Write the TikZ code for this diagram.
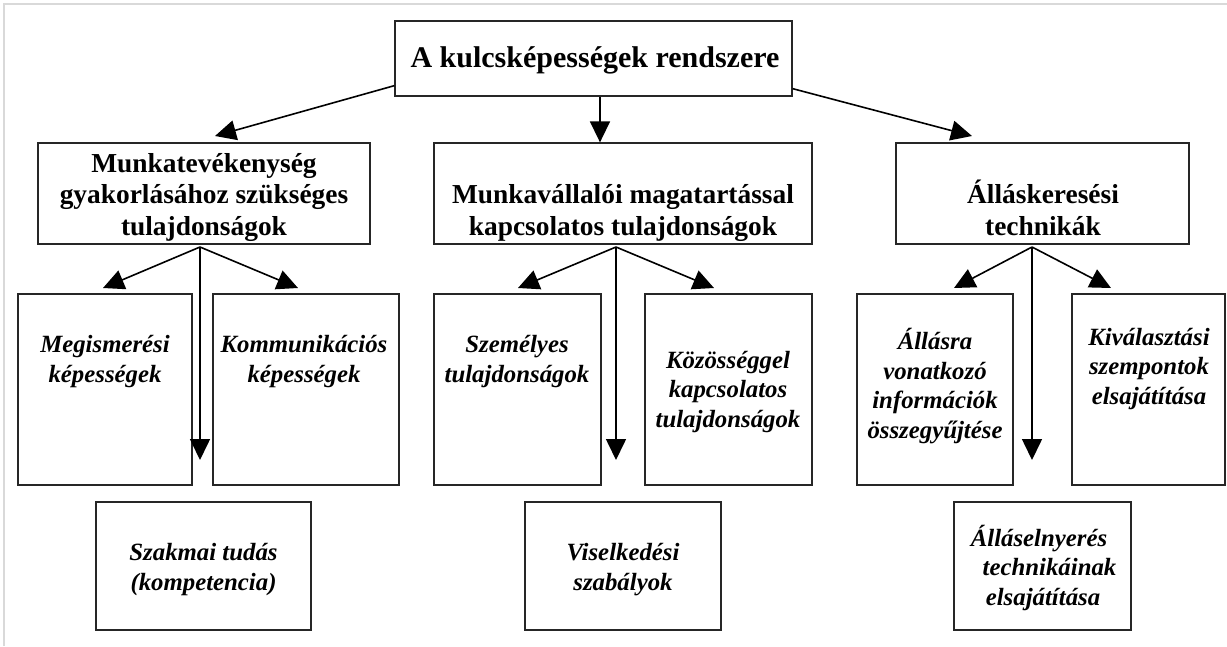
\documentclass[tikz,border=0pt]{standalone}
\usepackage{fontspec}
\setmainfont{Liberation Serif}
\usetikzlibrary{arrows.meta}
\begin{document}
\begin{tikzpicture}[x=1pt,y=-1pt,
  box/.style={draw=black!85, line width=1.3pt, inner sep=0pt},
  ttl/.style={font=\bfseries\fontsize{30}{34}\selectfont, align=center, inner sep=0pt},
  hd/.style={font=\bfseries\fontsize{27.4}{31.5}\selectfont, align=center, inner sep=0pt},
  it/.style={font=\bfseries\itshape\fontsize{24.8}{29.5}\selectfont, align=center, inner sep=0pt},
  arr/.style={line width=1.6pt, -{Triangle[length=21pt,width=20pt]}},
  frame/.style={draw=black!15, line width=1.2pt}]
\useasboundingbox (0,0) rectangle (1227,646);
\draw[frame] (4,646) -- (4,4) -- (1227,4);

% boxes
\node[box, minimum width=397pt, minimum height=75pt] (t) at (593.5,58.5) {};
\node[box, minimum width=332pt, minimum height=101pt] (b1) at (204,193.5) {};
\node[box, minimum width=378pt, minimum height=101pt] (b2) at (623,193.5) {};
\node[box, minimum width=293pt, minimum height=101pt] (b3) at (1042.5,193.5) {};
\node[box, minimum width=174pt, minimum height=191pt] (m1) at (105,389.5) {};
\node[box, minimum width=186pt, minimum height=191pt] (m2) at (306,389.5) {};
\node[box, minimum width=167pt, minimum height=191pt] (m3) at (517.5,389.5) {};
\node[box, minimum width=167pt, minimum height=191pt] (m4) at (728.5,389.5) {};
\node[box, minimum width=156pt, minimum height=191pt] (m5) at (935,389.5) {};
\node[box, minimum width=153pt, minimum height=191pt] (m6) at (1148.5,389.5) {};
\node[box, minimum width=215pt, minimum height=128pt] (s1) at (203.5,566) {};
\node[box, minimum width=196pt, minimum height=128pt] (s2) at (623,566) {};
\node[box, minimum width=177pt, minimum height=128pt] (s3) at (1042.5,566) {};

% texts (anchored at the baseline of the last line)
\node[ttl, anchor=base] (tt) at (595,67) {A kulcsképességek rendszere};
\node[hd, anchor=base] (b1t) at (204,235) {Munkatevékenység\\gyakorlásához szükséges\\tulajdonságok};
\node[hd, anchor=base] (b2t) at (623,235) {Munkavállalói magatartással\\kapcsolatos tulajdonságok};
\node[hd, anchor=base] (b3t) at (1043,235) {Álláskeresési\\technikák};
\node[it, anchor=base] (m1t) at (105,382) {Megismerési\\képességek};
\node[it, anchor=base] (m2t) at (304,382) {Kommunikációs\\képességek};
\node[it, anchor=base] (m3t) at (517,382) {Személyes\\tulajdonságok};
\node[it, anchor=base] (m4t) at (728,427) {Közösséggel\\kapcsolatos\\tulajdonságok};
\node[it, anchor=base] (m5t) at (935,438) {Állásra\\vonatkozó\\információk\\összegyűjtése};
\node[it, anchor=base] (m6t) at (1149,404) {Kiválasztási\\szempontok\\elsajátítása};
\node[it, anchor=base] (s1t) at (203.5,590) {Szakmai tudás\\(kompetencia)};
\node[it, anchor=base] (s2t) at (623,590) {Viselkedési\\szabályok};
\node[it, anchor=base] (s3t) at (1043,605) {Álláselnyerés\hspace*{8pt}\\\hspace*{13pt}technikáinak\\elsajátítása};

% connector points
\coordinate (tl) at (215,136);
\coordinate (tr) at (972,136);
\coordinate (o1) at (200,247);
\coordinate (o1l) at (103,288);
\coordinate (o1r) at (298,288);
\coordinate (o1d) at (200,460);
\coordinate (o2) at (616,247);
\coordinate (o2l) at (518,288);
\coordinate (o2r) at (714,288);
\coordinate (o2d) at (616,460);
\coordinate (o3) at (1032,247);
\coordinate (o3l) at (954,288);
\coordinate (o3r) at (1111,288);
\coordinate (o3d) at (1032,460);

% arrows
\draw[arr] ([yshift=11pt]t.south west) -- (tl);
\draw[arr] ([xshift=6.5pt]t.south) -- ([xshift=-23pt]b2.north);
\draw[arr] ([yshift=8pt]t.south east) -- (tr);
\draw[arr] (o1) -- (o1l);
\draw[arr] (o1) -- (o1r);
\draw[arr] (o1) -- (o1d);
\draw[arr] (o2) -- (o2l);
\draw[arr] (o2) -- (o2r);
\draw[arr] (o2) -- (o2d);
\draw[arr] (o3) -- (o3l);
\draw[arr] (o3) -- (o3r);
\draw[arr] (o3) -- (o3d);
\end{tikzpicture}
\end{document}
